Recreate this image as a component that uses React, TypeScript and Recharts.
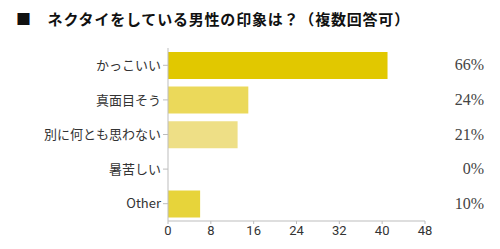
import { Bar, BarChart, Cell, XAxis, YAxis } from 'recharts';

const TITLE = '■　ネクタイをしている男性の印象は？（複数回答可）';
const CATEGORIES = ['かっこいい', '真面目そう', '別に何とも思わない', '暑苦しい', 'Other'];
const COUNTS = [41, 15, 13, 0, 6];
const PERCENTS = ['66%', '24%', '21%', '0%', '10%'];
const BAR_COLORS = ['#E1C800', '#EBD95A', '#EEDF86', '#E6D55A', '#E7D43A'];
const X_TICKS = [0, 8, 16, 24, 32, 40, 48];

const AXIS_GRAY = '#BDBDBD';
const LABEL = '#333333';
const SANS = '"Noto Sans CJK JP", "Noto Sans", sans-serif';
const SERIF = '"Liberation Serif", "DejaVu Serif", serif';

const rows = CATEGORIES.map((name, i) => ({
  name,
  value: COUNTS[i],
  pct: PERCENTS[i],
}));

function PercentTick({ x, y, payload }: { x: number; y: number; payload: { index: number } }) {
  return (
    <text
      x={x + 51}
      y={y}
      dy={5}
      textAnchor="end"
      fill="#444"
      style={{ fontFamily: SERIF, fontSize: 16 }}
    >
      {PERCENTS[payload.index]}
    </text>
  );
}

export default function App(): JSX.Element {
  return (
    <div style={{ position: 'absolute', left: 0, top: 0, width: 500, height: 249, background: '#fff' }}>
      <div
        style={{
          position: 'absolute',
          left: 16,
          top: 8,
          fontFamily: SANS,
          fontWeight: 700,
          fontSize: 15,
          color: '#111',
          whiteSpace: 'nowrap',
          letterSpacing: 0.8,
        }}
      >
        {TITLE}
      </div>
      <BarChart
        width={500}
        height={249}
        data={rows}
        layout="vertical"
        barSize={27}
        margin={{ top: 48, right: 0, bottom: 8, left: 0 }}
      >
        <XAxis
          type="number"
          domain={[0, 48]}
          ticks={X_TICKS}
          height={20}
          stroke={AXIS_GRAY}
          tickSize={3}
          tick={{ fill: LABEL, fontSize: 13, fontFamily: '"Liberation Sans Narrow", "Roboto", sans-serif' }}
        />
        <YAxis
          yAxisId="left"
          type="category"
          dataKey="name"
          width={168}
          stroke={AXIS_GRAY}
          tickSize={5}
          tick={{ fill: LABEL, fontSize: 13, fontFamily: SANS }}
        />
        <YAxis
          yAxisId="right"
          orientation="right"
          type="category"
          dataKey="name"
          width={75}
          axisLine={false}
          tickLine={false}
          tick={PercentTick}
        />
        <Bar yAxisId="left" dataKey="value" isAnimationActive={false}>
          {rows.map((r, i) => (
            <Cell key={r.name} fill={BAR_COLORS[i]} />
          ))}
        </Bar>
      </BarChart>
    </div>
  );
}
